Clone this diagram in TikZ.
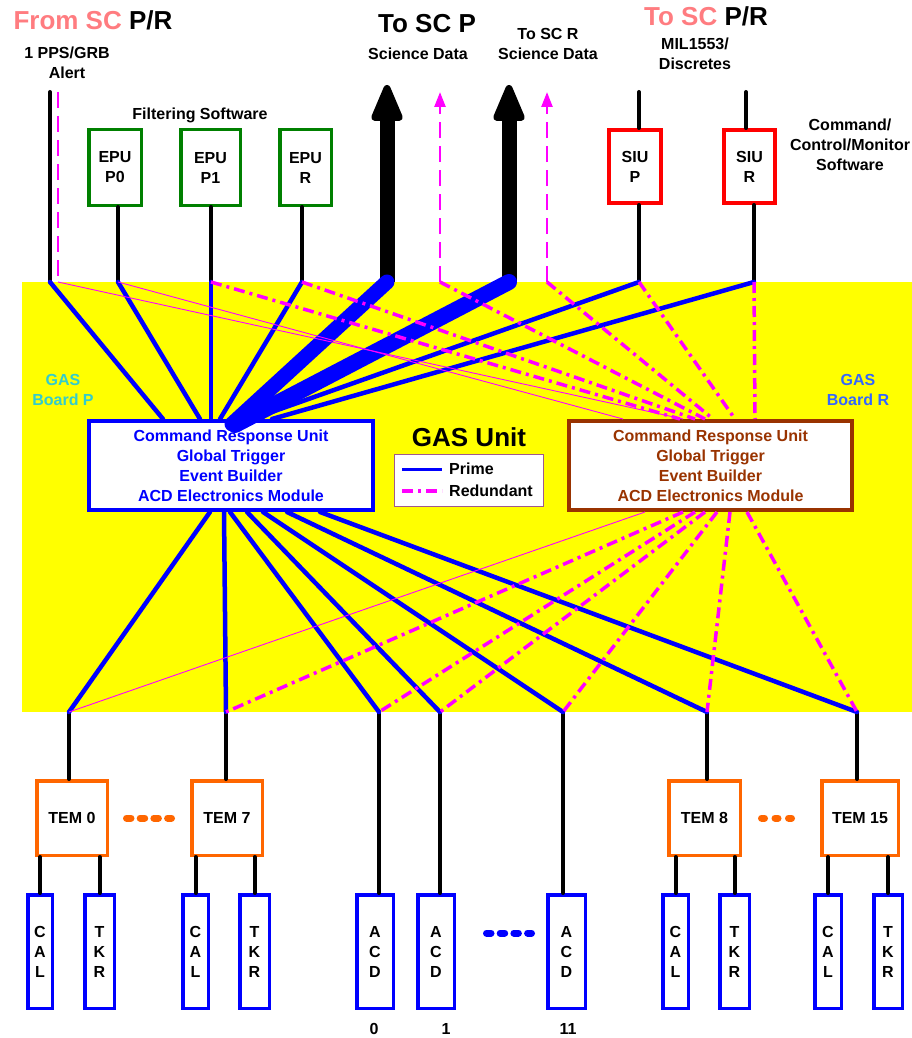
\documentclass[tikz,border=0pt]{standalone}
\usepackage{fontspec}
\setmainfont{Liberation Sans}
\usetikzlibrary{arrows.meta,calc}
\definecolor{salmon}{HTML}{FF7C80}
\definecolor{mag}{HTML}{FF00FF}
\definecolor{gblue}{HTML}{0000FF}
\definecolor{ygas}{HTML}{FFFF00}
\definecolor{epugreen}{HTML}{008000}
\definecolor{crubrown}{HTML}{993300}
\definecolor{temorange}{HTML}{FF6600}
\definecolor{boardP}{HTML}{33CCCC}
\definecolor{boardR}{HTML}{3366FF}
\definecolor{legborder}{HTML}{A05A8C}
\begin{document}
\begin{tikzpicture}[x=1pt,y=-1pt,
  font=\fontsize{16}{20}\selectfont\bfseries,
  txt/.style={align=center,inner sep=0pt},
  big/.style={font=\fontsize{26}{30}\selectfont\bfseries},
  epubox/.style={draw=epugreen,line width=3.5pt,fill=white,inner sep=0pt,minimum height=75.5pt,align=center},
  siubox/.style={draw=red,line width=4pt,fill=white,inner sep=0pt,minimum width=52pt,minimum height=73pt,align=center},
  crubox/.style={line width=4pt,fill=white,inner sep=0pt,minimum width=284pt,minimum height=89pt,align=center},
  tembox/.style={draw=temorange,line width=3.5pt,fill=white,inner sep=0pt,minimum height=74.5pt},
  detbox/.style={draw=gblue,line width=3.5pt,fill=white,inner sep=0pt,minimum height=113.5pt,align=center},
  blk/.style={line width=4pt,black,line cap=round},
  prime/.style={gblue,line width=4.5pt,line cap=round},
  redund/.style={mag,line width=3.5pt,dash pattern=on 11pt off 5pt on 3pt off 5pt},
  thinr/.style={mag,line width=0.9pt},
  dashr/.style={mag,line width=2.5pt,dash pattern=on 16pt off 8pt},
  bigarrow/.style={line width=15pt,-{Triangle[width=33pt,length=42pt,line width=7pt,round]}},
  smallarrow/.style={dashr,-{Triangle[width=11pt,length=15pt]}},
  dots/.style={line width=7pt,line cap=round}
]
\useasboundingbox (0,0) rectangle (912,1038);
\fill[ygas] (22,282) rectangle (912,712);

% ---------- texts ----------
\node[txt,big] (fromsc) at (93,20) {\textcolor{salmon}{From SC} P/R};
\node[txt,big] (toscpr) at (706,16) {\textcolor{salmon}{To SC} P/R};
\node[txt,big] (toscp) at (427,24) {To SC P};
\node[txt] (sdp) at (418,54) {Science Data};
\node[txt] (toscr) at (548,34) {To SC R};
\node[txt] (sdr) at (548,54) {Science Data};
\node[txt] (pps) at (67,63) {1 PPS/GRB\\Alert};
\node[txt] (mil) at (695,54) {MIL1553/\\Discretes};
\node[txt] (cmd) at (850,145) {Command/\\Control/Monitor\\Software};
\node[txt] (filt) at (200,115) {Filtering Software};
\node[txt,big] (gasunit) at (469,437) {GAS Unit};
\node[txt,text=boardP] (bp) at (63,390) {GAS\\Board P};
\node[txt,text=boardR] (br) at (858,390) {GAS\\Board R};

% ---------- boxes ----------
\node[epubox,minimum width=52.5pt] (epuP0) at (115,167.5) {EPU\\P0};
\node[epubox,minimum width=59.5pt] (epuP1) at (210.5,167.5) {EPU\\P1};
\node[epubox,minimum width=51.5pt] (epuR) at (305.5,167.5) {EPU\\R};
\node[siubox] (siuP) at (635,166.5) {SIU\\P};
\node[siubox,minimum width=51pt] (siuR) at (749.5,166.5) {SIU\\R};

\node[crubox,draw=gblue,text=gblue] (cruP) at (231,465.5)
  {Command Response Unit\\Global Trigger\\Event Builder\\ACD Electronics Module};
\node[crubox,draw=crubrown,text=crubrown,minimum width=283pt] (cruR) at (710.5,465.5)
  {Command Response Unit\\Global Trigger\\Event Builder\\ACD Electronics Module};

\node[draw=legborder,line width=1pt,fill=white,minimum width=149pt,minimum height=52pt,inner sep=0pt] (legend) at (469,480.5) {};
\coordinate (lp1) at (402,469); \coordinate (lp2) at (442,469);
\coordinate (lr1) at (402,491); \coordinate (lr2) at (442,491);
\draw[gblue,line width=3pt] (lp1) -- (lp2);
\draw[redund] (lr1) -- (lr2);
\node[txt,anchor=west] (lprime) at (449,469) {Prime};
\node[txt,anchor=west] (lred) at (449,491) {Redundant};

\node[tembox,minimum width=70.5pt] (tem0) at (72,818) {TEM 0};
\node[tembox,minimum width=70.5pt] (tem7) at (227,818) {TEM 7};
\node[tembox,minimum width=71.5pt] (tem8) at (704.5,818) {TEM 8};
\node[tembox,minimum width=76.5pt] (tem15) at (860,818) {TEM 15};

\node[detbox,minimum width=24.5pt] (cal0) at (40,951.5) {C\\A\\L};
\node[detbox,minimum width=29.5pt] (tkr0) at (99.5,951.5) {T\\K\\R};
\node[detbox,minimum width=25.5pt] (cal7) at (195.5,951.5) {C\\A\\L};
\node[detbox,minimum width=29.5pt] (tkr7) at (254.5,951.5) {T\\K\\R};
\node[detbox,minimum width=36.5pt] (acd0) at (375,951.5) {A\\C\\D};
\node[detbox,minimum width=36.5pt] (acd1) at (436,951.5) {A\\C\\D};
\node[detbox,minimum width=37.5pt] (acd11) at (566.5,951.5) {A\\C\\D};
\node[detbox,minimum width=25.5pt] (cal8) at (675.5,951.5) {C\\A\\L};
\node[detbox,minimum width=29.5pt] (tkr8) at (734.5,951.5) {T\\K\\R};
\node[detbox,minimum width=26.5pt] (cal15) at (828,951.5) {C\\A\\L};
\node[detbox,minimum width=28.5pt] (tkr15) at (888,951.5) {T\\K\\R};

\node[txt] (n0) at (374,1029) {0};
\node[txt] (n1) at (446,1029) {1};
\node[txt] (n11) at (568,1029) {11};

% ---------- coordinates ----------
\coordinate (jA) at (50,282);  \coordinate (jAr) at (58,282);
\coordinate (jE0) at (118,282); \coordinate (jE1) at (211,282);
\coordinate (jER) at (302,282); \coordinate (jSP) at (387,282);
\coordinate (jSPr) at (440,282); \coordinate (jSR) at (509,282);
\coordinate (jSRr) at (547,282); \coordinate (jIP) at (639,282);
\coordinate (jIR) at (754,282);
\coordinate (tA) at (50,92);  \coordinate (tAr) at (58,92);
\coordinate (tSP) at (387,85); \coordinate (tSPr) at (440,92);
\coordinate (tSR) at (509,85); \coordinate (tSRr) at (547,92);
\coordinate (tIP) at (639,92); \coordinate (tIR) at (746,92);
\coordinate (bT0) at (69,712); \coordinate (bT7) at (226,712);
\coordinate (bA0) at (379,712); \coordinate (bA1) at (440,712);
\coordinate (bA11) at (563,712); \coordinate (bT8) at (707,712);
\coordinate (bT15) at (857,712);

% ---------- black connectors ----------
\draw[blk] (tA) -- (jA);
\draw[dashr] (tAr) -- (jAr);
\draw[blk] (jE0 |- epuP0.south) -- (jE0);
\draw[blk] (jE1 |- epuP1.south) -- (jE1);
\draw[blk] (jER |- epuR.south) -- (jER);
\draw[blk] (tIP) -- (tIP |- siuP.north);
\draw[blk] (jIP |- siuP.south) -- (jIP);
\draw[blk] (tIR) -- (tIR |- siuR.north);
\draw[blk] (jIR |- siuR.south) -- (jIR);
\draw[bigarrow] (jSP) -- (tSP);
\draw[bigarrow] (jSR) -- (tSR);
\draw[smallarrow] (jSPr) -- (tSPr);
\draw[smallarrow] (jSRr) -- (tSRr);

\draw[blk] (bT0) -- (bT0 |- tem0.north);
\draw[blk] (bT7) -- (bT7 |- tem7.north);
\draw[blk] (bT8) -- (bT8 |- tem8.north);
\draw[blk] (bT15) -- (bT15 |- tem15.north);
\draw[blk] (bA0) -- (bA0 |- acd0.north);
\draw[blk] (bA1) -- (bA1 |- acd1.north);
\draw[blk] (bA11) -- (bA11 |- acd11.north);
\foreach \c/\t in {cal0/tem0,tkr0/tem0,cal7/tem7,tkr7/tem7,cal8/tem8,tkr8/tem8,cal15/tem15,tkr15/tem15}
  \draw[blk] (\c.north) -- (\c |- \t.south);

% ---------- prime (blue) ----------
\draw[prime] (jA) -- ($(cruP.north west)+(76,0)$);
\draw[prime] (jE0) -- ($(cruP.north west)+(113,0)$);
\draw[prime] (jE1) -- ($(cruP.north west)+(124,0)$);
\draw[prime] (jER) -- ($(cruP.north west)+(133,0)$);
\draw[prime] (jIP) -- ($(cruP.north west)+(165,0)$);
\draw[prime] (jIR) -- ($(cruP.north west)+(185,0)$);
\draw[prime,line width=15pt] (jSP) -- ($(cruP.north west)+(145,5)$);
\draw[prime,line width=16pt] (jSR) -- ($(cruP.north west)+(148,6)$);

\draw[prime] ($(cruP.south west)+(123,0)$) -- (bT0);
\draw[prime] ($(cruP.south west)+(137,0)$) -- (bT7);
\draw[prime] ($(cruP.south west)+(143,0)$) -- (bA0);
\draw[prime] ($(cruP.south west)+(160,0)$) -- (bA1);
\draw[prime] ($(cruP.south west)+(176,0)$) -- (bA11);
\draw[prime] ($(cruP.south west)+(200,0)$) -- (bT8);
\draw[prime] ($(cruP.south west)+(233,0)$) -- (bT15);

% ---------- redundant (magenta) ----------
\draw[thinr] (jAr) -- ($(cruR.north west)+(116,0)$);
\draw[thinr] (jE0) -- ($(cruR.north west)+(56,0)$);
\draw[redund] (jE1) -- ($(cruR.north west)+(113,0)$);
\draw[redund] (jER) -- ($(cruR.north west)+(128,0)$);
\draw[redund] (jSPr) -- ($(cruR.north west)+(138,0)$);
\draw[redund] (jSRr) -- ($(cruR.north west)+(146,0)$);
\draw[redund] (jIP) -- ($(cruR.north west)+(168,0)$);
\draw[redund] (jIR) -- ($(cruR.north west)+(188,0)$);

\draw[thinr] ($(cruR.south west)+(78,0)$) -- (bT0);
\draw[redund] ($(cruR.south west)+(116,0)$) -- (bT7);
\draw[redund] ($(cruR.south west)+(128,0)$) -- (bA0);
\draw[redund] ($(cruR.south west)+(138,0)$) -- (bA1);
\draw[redund] ($(cruR.south west)+(150,0)$) -- (bA11);
\draw[redund] ($(cruR.south west)+(163,0)$) -- (bT8);
\draw[redund] ($(cruR.south west)+(180,0)$) -- (bT15);

% ---------- ellipsis dots ----------
\coordinate (d1a) at (126.5,818); \coordinate (d1b) at (171.5,818);
\coordinate (d2a) at (761.5,818); \coordinate (d2b) at (791.5,818);
\coordinate (d3a) at (486.5,933); \coordinate (d3b) at (531.5,933);
\draw[dots,temorange,dash pattern=on 4.5pt off 9.2pt] (d1a) -- (d1b);
\draw[dots,temorange,dash pattern=on 3pt off 10.5pt] (d2a) -- (d2b);
\draw[dots,gblue,dash pattern=on 4.5pt off 9.2pt] (d3a) -- (d3b);
\end{tikzpicture}
\end{document}
